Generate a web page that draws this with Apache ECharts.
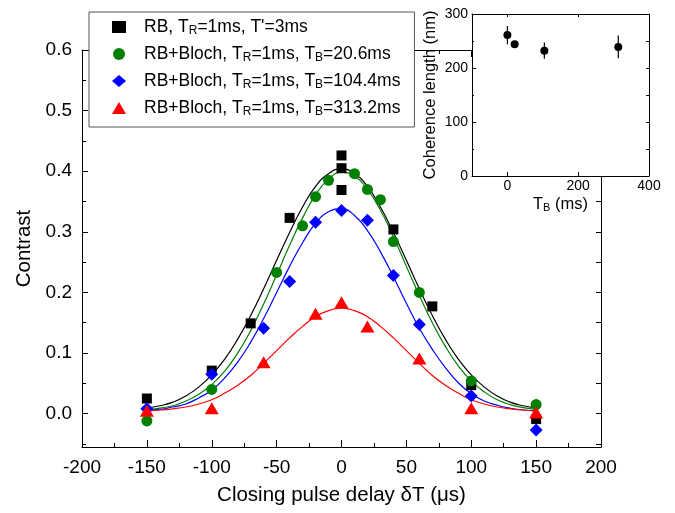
<!DOCTYPE html>
<html>
<head>
<meta charset="utf-8">
<script src="https://cdn.jsdelivr.net/npm/echarts@6/dist/echarts.min.js"></script>
<style>
html, body { margin: 0; padding: 0; background: #fff; }
#chart { width: 675px; height: 513px; }
</style>
</head>
<body>
<div id="chart"></div>
<script>
// measured points (contrast vs closing pulse delay, us)
const rbX = [-150, -100, -70, -40, 0, 0, 0, 40, 70, 100, 150];
const rbY = [0.025, 0.071, 0.149, 0.323, 0.426, 0.405, 0.369, 0.304, 0.177, 0.047, -0.009];

const b20X = [-150, -100, -50, -30, -20, -10, 10, 20, 30, 40, 60, 100, 150];
const b20Y = [-0.012, 0.040, 0.233, 0.310, 0.358, 0.385, 0.396, 0.370, 0.353, 0.284, 0.200, 0.054, 0.015];

const b104X = [-150, -100, -60, -40, -20, 0, 20, 40, 60, 100, 150];
const b104Y = [0.008, 0.065, 0.141, 0.218, 0.316, 0.335, 0.319, 0.228, 0.147, 0.029, -0.027];

const b313X = [-150, -100, -60, -20, 0, 20, 60, 100, 150];
const b313Y = [0.005, 0.009, 0.085, 0.165, 0.184, 0.144, 0.091, 0.009, 0.002];

const fitX = [-150, -140, -130, -120, -110, -100, -90, -80, -70, -60, -50, -40, -30, -20, -10, 0,
              10, 20, 30, 40, 50, 60, 70, 80, 90, 100, 110, 120, 130, 140, 150];
const fitRb = [0.009, 0.013, 0.019, 0.029, 0.044, 0.064, 0.090, 0.123, 0.162, 0.206, 0.253, 0.299, 0.341, 0.375, 0.396, 0.404,
               0.396, 0.375, 0.341, 0.299, 0.253, 0.206, 0.162, 0.123, 0.090, 0.064, 0.044, 0.029, 0.019, 0.013, 0.009];
const fitB20 = [0.006, 0.009, 0.013, 0.021, 0.032, 0.048, 0.070, 0.100, 0.137, 0.181, 0.229, 0.278, 0.323, 0.361, 0.387, 0.398,
                0.392, 0.370, 0.336, 0.292, 0.243, 0.195, 0.150, 0.111, 0.079, 0.054, 0.036, 0.023, 0.015, 0.010, 0.007];
const fitB104 = [0.005, 0.007, 0.011, 0.016, 0.026, 0.039, 0.059, 0.085, 0.118, 0.157, 0.200, 0.243, 0.282, 0.314, 0.333, 0.338,
                 0.327, 0.302, 0.267, 0.226, 0.182, 0.141, 0.106, 0.076, 0.051, 0.033, 0.021, 0.014, 0.009, 0.006, 0.005];
const fitB313 = [0.004, 0.006, 0.008, 0.011, 0.016, 0.023, 0.034, 0.047, 0.063, 0.083, 0.104, 0.125, 0.144, 0.160, 0.170, 0.174,
                 0.170, 0.160, 0.144, 0.125, 0.104, 0.083, 0.063, 0.047, 0.034, 0.023, 0.016, 0.011, 0.008, 0.006, 0.004];

const names = [
    "RB, T{sub|R}=1ms, T'=3ms",
    'RB+Bloch, T{sub|R}=1ms, T{sub|B}=20.6ms',
    'RB+Bloch, T{sub|R}=1ms, T{sub|B}=104.4ms',
    'RB+Bloch, T{sub|R}=1ms, T{sub|B}=313.2ms'
];
const colors = ['#000000', '#008000', '#0000ff', '#ff0000'];

// inset: coherence length vs T_B
const insetTB = [0, 20.6, 104.4, 313.2];
const insetLen = [261, 244, 232, 239];
const insetErr = [17, 6, 15, 21];

// tick values
const yMajor = [0, 0.1, 0.2, 0.3, 0.4, 0.5, 0.6];
const yMinor = [-0.05, 0.05, 0.15, 0.25, 0.35, 0.45, 0.55];
const insetXTicks = [0, 200, 400];

const zip = (xs, ys) => xs.map((x, i) => [x, ys[i]]);

const chart = echarts.init(document.getElementById('chart'));
const font = 'Liberation Sans, Arial, sans-serif';
const black = { color: '#000', width: 1 };
const line = { onZero: false, lineStyle: black };

const mainPoints = [
    { x: rbX, y: rbY, symbol: 'rect', size: 10 },
    { x: b20X, y: b20Y, symbol: 'circle', size: 11 },
    { x: b104X, y: b104Y, symbol: 'diamond', size: 13 },
    { x: b313X, y: b313Y, symbol: 'triangle', size: [14, 12] }
];
const fits = [fitRb, fitB20, fitB104, fitB313];

const series = [];
fits.forEach((f, i) => {
    series.push({
        type: 'line', xAxisIndex: 0, yAxisIndex: 0,
        data: zip(fitX, f), smooth: true, showSymbol: false, silent: true,
        lineStyle: { color: colors[i], width: 1.2 }, z: 2
    });
});
mainPoints.forEach((p, i) => {
    series.push({
        type: 'scatter', name: names[i], xAxisIndex: 0, yAxisIndex: 0,
        data: zip(p.x, p.y), symbol: p.symbol, symbolSize: p.size,
        itemStyle: { color: colors[i], opacity: 1 }, z: 3
    });
});
series.push({
    type: 'custom', xAxisIndex: 2, yAxisIndex: 3, z: 7, silent: true,
    data: insetTB.map((t, i) => [t, insetLen[i] - insetErr[i], insetLen[i] + insetErr[i]]),
    renderItem: (params, api) => {
        const lo = api.coord([api.value(0), api.value(1)]);
        const hi = api.coord([api.value(0), api.value(2)]);
        return {
            type: 'line',
            shape: { x1: lo[0], y1: lo[1], x2: hi[0], y2: hi[1] },
            style: { stroke: '#000', lineWidth: 1.2 }
        };
    }
});
series.push({
    type: 'scatter', xAxisIndex: 2, yAxisIndex: 3, z: 8,
    data: zip(insetTB, insetLen), symbol: 'circle', symbolSize: 8,
    itemStyle: { color: '#000', opacity: 1 }
});

const sub = { fontSize: 12, lineHeight: 4, verticalAlign: 'bottom', fontFamily: font, color: '#000' };

const option = {
    animation: false,
    backgroundColor: '#fff',
    textStyle: { fontFamily: font, color: '#000' },
    grid: [
        { left: 82, right: 74, top: 50, bottom: 66 },
        { left: 472, right: 26, top: 14, bottom: 337, show: true, backgroundColor: '#fff', borderWidth: 0, z: 5 }
    ],
    legend: {
        data: names, orient: 'vertical', left: 89, top: 12,
        padding: [5, 14, 9, 23], itemWidth: 14, itemHeight: 12, itemGap: 7,
        backgroundColor: '#fff', borderColor: '#555', borderWidth: 1,
        textStyle: { fontSize: 17.5, lineHeight: 20, color: '#000', fontFamily: font, padding: [0, 0, 0, 13], rich: { sub: sub } }
    },
    xAxis: [
        {
            gridIndex: 0, type: 'value', min: -200, max: 200, interval: 50, position: 'bottom',
            axisLine: line, splitLine: { show: false },
            axisTick: { inside: true, length: 7, lineStyle: black },
            minorTick: { show: true, splitNumber: 2, length: 4, lineStyle: black },
            axisLabel: { fontSize: 19, margin: 11, color: '#000' },
            name: 'Closing pulse delay δT (μs)', nameLocation: 'middle', nameGap: 38,
            nameTextStyle: { fontSize: 20.5, color: '#000' }
        },
        {
            gridIndex: 0, type: 'value', min: -200, max: 200, interval: 50, position: 'top',
            axisLine: line, splitLine: { show: false },
            axisTick: { inside: true, length: 7, lineStyle: black },
            minorTick: { show: true, splitNumber: 2, length: 4, lineStyle: black },
            axisLabel: { show: false }
        },
        {
            gridIndex: 1, type: 'value', min: -100, max: 400, position: 'bottom', z: 6,
            axisLine: line, splitLine: { show: false },
            axisTick: { inside: true, length: 4, lineStyle: black, customValues: insetXTicks },
            axisLabel: { fontSize: 14, margin: 3, color: '#000', customValues: insetXTicks },
            name: 'T{sub|B} (ms)', nameLocation: 'middle', nameGap: 20,
            nameTextStyle: { fontSize: 16.5, color: '#000', rich: { sub: { fontSize: 11, lineHeight: 4, verticalAlign: 'bottom', fontFamily: font } } }
        },
        {
            gridIndex: 1, type: 'value', min: -100, max: 400, position: 'top', z: 6,
            axisLine: line, splitLine: { show: false },
            axisTick: { inside: true, length: 3, lineStyle: black, customValues: insetXTicks },
            axisLabel: { show: false }
        }
    ],
    yAxis: [
        {
            gridIndex: 0, type: 'value', min: -0.055, max: 0.6, position: 'left',
            axisLine: { show: true, onZero: false, lineStyle: black }, splitLine: { show: false },
            axisTick: { inside: true, length: 6, lineStyle: black, customValues: yMajor },
            axisLabel: { fontSize: 19, margin: 10, color: '#000', customValues: yMajor, formatter: v => v.toFixed(1) },
            name: 'Contrast', nameLocation: 'middle', nameGap: 44,
            nameTextStyle: { fontSize: 20.5, color: '#000' }
        },
        {
            gridIndex: 0, type: 'value', min: -0.055, max: 0.6, position: 'left',
            axisLine: { show: false, onZero: false }, splitLine: { show: false },
            axisTick: { inside: true, length: 4, lineStyle: black, customValues: yMinor },
            axisLabel: { show: false }
        },
        {
            gridIndex: 0, type: 'value', min: -0.055, max: 0.6, position: 'right',
            axisLine: { show: true, onZero: false, lineStyle: black }, splitLine: { show: false },
            axisTick: { inside: true, length: 5, lineStyle: black, customValues: yMajor.concat(yMinor) },
            axisLabel: { show: false }
        },
        {
            gridIndex: 1, type: 'value', min: 0, max: 300, interval: 100, position: 'left', z: 6,
            axisLine: { show: true, onZero: false, lineStyle: black }, splitLine: { show: false },
            axisTick: { inside: true, length: 4, lineStyle: black },
            minorTick: { show: true, splitNumber: 2, length: 2, lineStyle: black },
            axisLabel: { fontSize: 14, margin: 4, color: '#000' },
            name: 'Coherence length (nm)', nameLocation: 'middle', nameGap: 33,
            nameTextStyle: { fontSize: 16.5, color: '#000' }
        },
        {
            gridIndex: 1, type: 'value', min: 0, max: 300, interval: 50, position: 'right', z: 6,
            axisLine: { show: true, onZero: false, lineStyle: black }, splitLine: { show: false },
            axisTick: { inside: true, length: 3, lineStyle: black },
            axisLabel: { show: false }
        }
    ],
    series: series
};

chart.setOption(option);
window.addEventListener('resize', () => chart.resize());
</script>
</body>
</html>
